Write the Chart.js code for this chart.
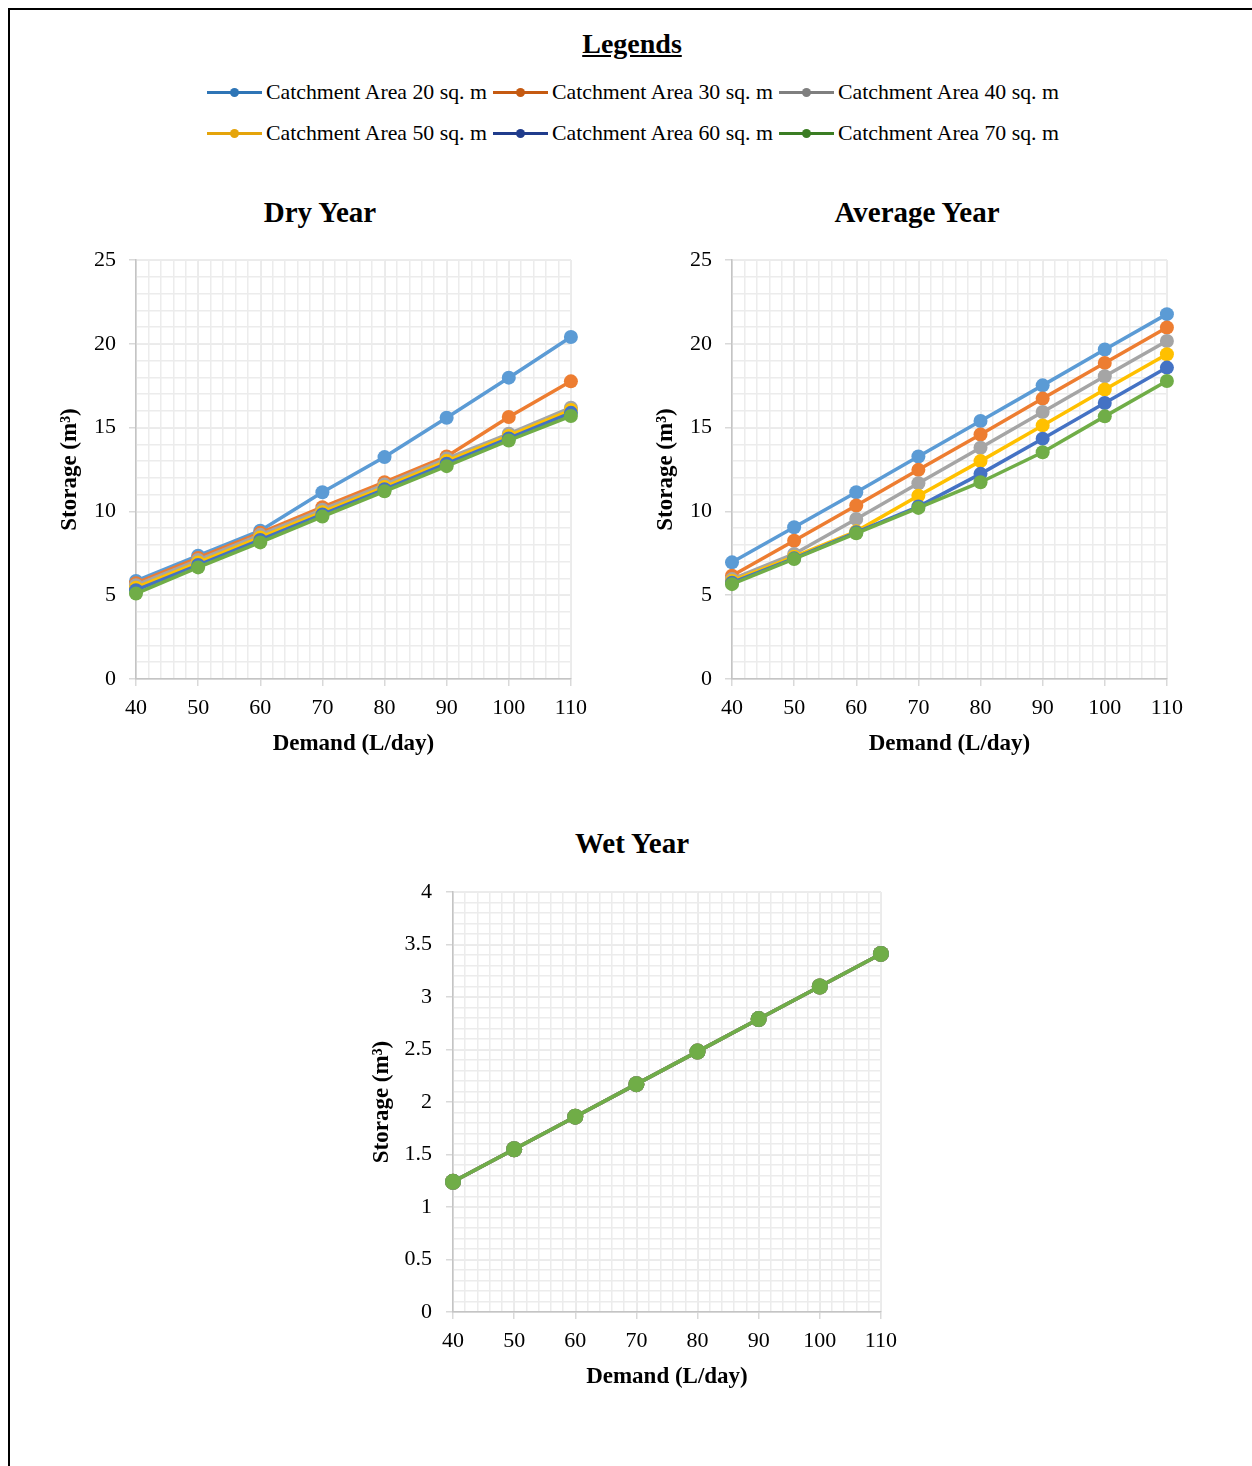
<!DOCTYPE html>
<html>
<head>
<meta charset="utf-8">
<script src="https://cdn.jsdelivr.net/npm/chart.js@4.4.1/dist/chart.umd.min.js"></script>
<style>
  body { margin: 0; background: #fff; width: 1252px; height: 1466px; position: relative; overflow: hidden; font-family: "Liberation Serif", "Times New Roman", serif; }
  .marc { position: absolute; left: 8px; top: 8px; right: -4px; bottom: -4px; border-top: 2px solid #000; border-left: 2px solid #000; }
  .titol { position: absolute; left: 432px; width: 400px; top: 27px; line-height: 34px; text-align: center; font-size: 28px; font-weight: bold; text-decoration: underline; }
  .cap { position: absolute; width: 400px; line-height: 34px; text-align: center; font-size: 29px; font-weight: bold; }
  .item { position: absolute; height: 30px; display: flex; align-items: center; font-size: 21.8px; white-space: nowrap; }
  .mostra { position: relative; width: 55px; height: 3px; margin-right: 4px; }
  .mostra::after { content: ""; position: absolute; left: 23px; top: -3px; width: 9px; height: 9px; border-radius: 50%; background: inherit; }
  canvas { position: absolute; }
</style>
</head>
<body>
<div class="marc"></div>
<div class="titol">Legends</div>
<div id="llegenda"></div>
<div class="cap" style="left:120px; top:195px;">Dry Year</div>
<div class="cap" style="left:717px; top:195px;">Average Year</div>
<div class="cap" style="left:432px; top:826px;">Wet Year</div>
<canvas id="sec" width="546" height="582" style="left:50px; top:180px; width:546px; height:582px;"></canvas>
<canvas id="mitja" width="546" height="582" style="left:646px; top:180px; width:546px; height:582px;"></canvas>
<canvas id="humit" width="544" height="583" style="left:362px; top:812px; width:544px; height:583px;"></canvas>
<script>
const demanda = [40, 50, 60, 70, 80, 90, 100, 110];
const arees = ['Catchment Area 20 sq. m', 'Catchment Area 30 sq. m', 'Catchment Area 40 sq. m',
               'Catchment Area 50 sq. m', 'Catchment Area 60 sq. m', 'Catchment Area 70 sq. m'];
const colors = ['#5B9BD5', '#ED7D31', '#A5A5A5', '#FFC000', '#4472C4', '#70AD47'];
const colorsLlegenda = ['#2E75B6', '#C55A11', '#7F7F7F', '#E5A40B', '#203C8C', '#3B7D23'];

// Dry Year
const sec20 = [5.85, 7.36, 8.85, 11.14, 13.24, 15.59, 17.98, 20.41];
const sec30 = [5.72, 7.22, 8.72, 10.25, 11.74, 13.28, 15.63, 17.76];
const sec40 = [5.6, 7.1, 8.6, 10.1, 11.6, 13.15, 14.63, 16.19];
const sec50 = [5.45, 6.95, 8.45, 9.95, 11.45, 13.0, 14.5, 16.05];
const sec60 = [5.3, 6.8, 8.3, 9.82, 11.32, 12.85, 14.35, 15.88];
const sec70 = [5.1, 6.66, 8.15, 9.69, 11.2, 12.7, 14.23, 15.69];

// Average Year
const mitja20 = [6.96, 9.05, 11.14, 13.28, 15.39, 17.52, 19.66, 21.77];
const mitja30 = [6.16, 8.25, 10.35, 12.48, 14.59, 16.73, 18.86, 20.97];
const mitja40 = [5.96, 7.46, 9.55, 11.68, 13.8, 15.93, 18.06, 20.17];
const mitja50 = [5.85, 7.3, 8.81, 10.94, 13.0, 15.13, 17.27, 19.38];
const mitja60 = [5.75, 7.2, 8.75, 10.29, 12.24, 14.34, 16.47, 18.58];
const mitja70 = [5.66, 7.16, 8.69, 10.21, 11.74, 13.53, 15.67, 17.78];

// Wet Year (all areas overlap)
const humit20 = [1.24, 1.55, 1.86, 2.17, 2.48, 2.79, 3.10, 3.41];
const humit30 = [1.24, 1.55, 1.86, 2.17, 2.48, 2.79, 3.10, 3.41];
const humit40 = [1.24, 1.55, 1.86, 2.17, 2.48, 2.79, 3.10, 3.41];
const humit50 = [1.24, 1.55, 1.86, 2.17, 2.48, 2.79, 3.10, 3.41];
const humit60 = [1.24, 1.55, 1.86, 2.17, 2.48, 2.79, 3.10, 3.41];
const humit70 = [1.24, 1.55, 1.86, 2.17, 2.48, 2.79, 3.10, 3.41];

const lletra = '"Liberation Serif", "Times New Roman", serif';

// llegenda comuna
const llegenda = document.getElementById('llegenda');
arees.forEach((nom, i) => {
    const item = document.createElement('div');
    item.className = 'item';
    item.style.left = (207 + (i % 3) * 286) + 'px';
    item.style.top = (i < 3 ? 77 : 118) + 'px';
    const mostra = document.createElement('span');
    mostra.className = 'mostra';
    mostra.style.background = colorsLlegenda[i];
    item.appendChild(mostra);
    item.appendChild(document.createTextNode(nom));
    llegenda.appendChild(item);
});

function crearGrafic(id, series, eix) {
    const canva = document.getElementById(id);
    new Chart(canva, {
        type: 'line',
        data: {
            datasets: series.map((valors, i) => ({
                label: arees[i],
                data: demanda.map((d, j) => ({ x: d, y: valors[j] })),
                borderColor: colors[i],
                backgroundColor: colors[i],
                borderWidth: eix.gruix,
                pointRadius: eix.radi,
                pointHoverRadius: eix.radi,
                pointBorderWidth: 0,
                clip: false,
                order: series.length - 1 - i
            }))
        },
        options: {
            responsive: false,
            animation: false,
            devicePixelRatio: 1,
            layout: { padding: { top: 80, right: 19 } },
            plugins: {
                legend: { display: false },
                tooltip: { enabled: false }
            },
            scales: {
                x: {
                    type: 'linear', min: 40, max: 110,
                    ticks: { stepSize: 10, color: '#000', font: { family: lletra, size: 22 }, padding: 9 },
                    grid: { color: '#d9d9d9', lineWidth: 1.5, tickLength: 7 },
                    border: { color: '#c4c4c4', width: 1.5 },
                    title: {
                        display: true, text: 'Demand (L/day)', color: '#000',
                        font: { family: lletra, size: 23, weight: 'bold' },
                        padding: { top: 0, bottom: 4 }
                    }
                },
                y: {
                    type: 'linear', min: 0, max: eix.max,
                    ticks: {
                        stepSize: eix.pas, color: '#000', font: { family: lletra, size: 22 }, padding: eix.padTicks,
                        callback: (v) => String(+v.toFixed(2))
                    },
                    grid: { color: '#d9d9d9', lineWidth: 1.5, tickLength: 7 },
                    border: { color: '#c4c4c4', width: 1.5 },
                    title: {
                        display: true, text: 'Storage (m³)', color: '#000',
                        font: { family: lletra, size: 23, weight: 'bold' },
                        padding: { top: eix.padTitol, bottom: 0 }
                    },
                    afterFit: (s) => { s.width = eix.ampla; }
                },
                xMenor: {
                    type: 'linear', axis: 'x', position: 'bottom', min: 40, max: 110, z: -1,
                    ticks: { display: false, stepSize: 2 },
                    grid: { color: '#ececec', lineWidth: 1.5, drawTicks: false },
                    border: { display: false }
                },
                yMenor: {
                    type: 'linear', axis: 'y', position: 'left', min: 0, max: eix.max, z: -1,
                    ticks: { display: false, stepSize: eix.pasMenor },
                    grid: { color: '#ececec', lineWidth: 1.5, drawTicks: false },
                    border: { display: false }
                }
            }
        }
    });
}

crearGrafic('sec', [sec20, sec30, sec40, sec50, sec60, sec70],
    { max: 25, pas: 5, pasMenor: 1, ampla: 86, padTitol: 6, padTicks: 13, gruix: 3.5, radi: 7 });
crearGrafic('mitja', [mitja20, mitja30, mitja40, mitja50, mitja60, mitja70],
    { max: 25, pas: 5, pasMenor: 1, ampla: 86, padTitol: 6, padTicks: 13, gruix: 3.5, radi: 7 });
crearGrafic('humit', [humit20, humit30, humit40, humit50, humit60, humit70],
    { max: 4, pas: 0.5, pasMenor: 0.1, ampla: 91, padTitol: 6, padTicks: 14, gruix: 3.5, radi: 8 });
</script>
</body>
</html>
